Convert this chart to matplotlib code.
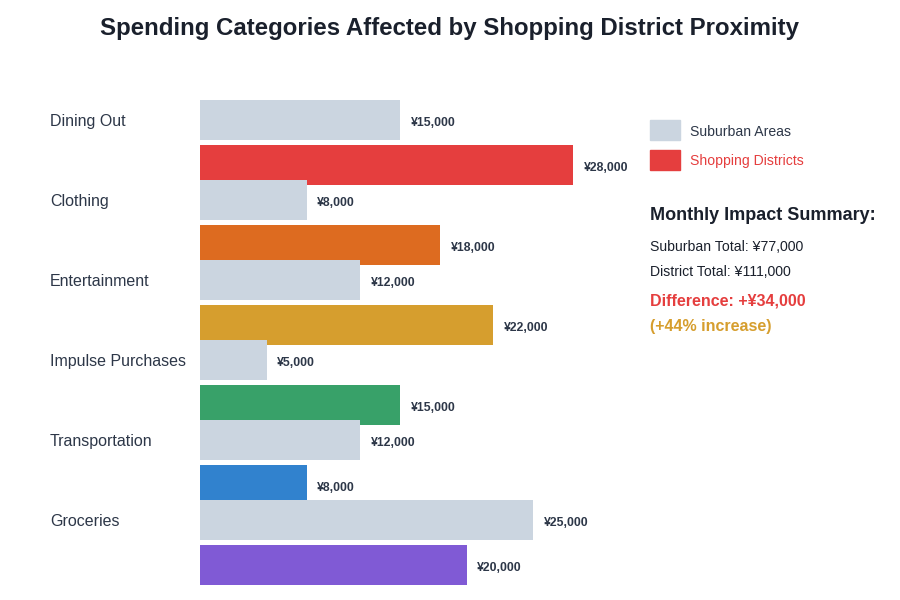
import matplotlib.pyplot as plt
from matplotlib.patches import Rectangle

plt.rcParams['font.family'] = ['Liberation Sans', 'DejaVu Sans']

categories = ['Dining Out', 'Clothing', 'Entertainment', 'Impulse Purchases',
              'Transportation', 'Groceries']
suburban = [15000, 8000, 12000, 5000, 12000, 25000]
district = [28000, 18000, 22000, 15000, 8000, 20000]
district_colors = ['#e53e3e', '#dd6b20', '#d69e2e', '#38a169', '#3182ce', '#805ad5']
suburban_color = '#cbd5e0'
text_dark = '#2d3748'


def fy(px):
    # pixel row from top -> figure fraction (nudged for text baseline)
    return 1 - (px + 1.5) / 600


fig = plt.figure(figsize=(9, 6), dpi=100)
# axes placed so one category step = 80 px and 1000 yen = 13.33 px
ax = fig.add_axes([200 / 900, 0, 440 / 900, 520 / 600])
ax.set_xlim(0, 33000)
ax.set_ylim(6.0, -0.5)
ax.axis('off')

for i, cat in enumerate(categories):
    ax.barh(i, suburban[i], height=0.5, color=suburban_color, zorder=2 * i)
    ax.barh(i + 0.5625, district[i], height=0.5, color=district_colors[i], zorder=2 * i + 1)
    ax.annotate(f'¥{suburban[i]:,}', (suburban[i], i), xytext=(7.5, -2),
                textcoords='offset points', va='center', ha='left',
                fontsize=8.8, fontweight='bold', color=text_dark, zorder=20)
    ax.annotate(f'¥{district[i]:,}', (district[i], i + 0.5625), xytext=(7.5, -2),
                textcoords='offset points', va='center', ha='left',
                fontsize=8.8, fontweight='bold', color=text_dark, zorder=20)
    fig.text(50 / 900, fy(120 + 80 * i), cat, ha='left', va='center',
             fontsize=11.5, color=text_dark)

fig.text(0.5, fy(27), 'Spending Categories Affected by Shopping District Proximity',
         ha='center', va='center', fontsize=17.3, fontweight='bold', color='#1a202c')

# legend
fig.add_artist(Rectangle((650 / 900, 1 - 140 / 600), 30 / 900, 20 / 600,
                         transform=fig.transFigure, color=suburban_color))
fig.add_artist(Rectangle((650 / 900, 1 - 170 / 600), 30 / 900, 20 / 600,
                         transform=fig.transFigure, color='#e53e3e'))
fig.text(690 / 900, fy(130), 'Suburban Areas', ha='left', va='center',
         fontsize=10.1, color=text_dark)
fig.text(690 / 900, fy(160), 'Shopping Districts', ha='left', va='center',
         fontsize=10.1, color='#e53e3e')

# summary
sub_total = sum(suburban)
dist_total = sum(district)
diff = dist_total - sub_total
pct = round(diff / sub_total * 100)
fig.text(650 / 900, fy(214), 'Monthly Impact Summary:', ha='left', va='center',
         fontsize=13, fontweight='bold', color='#1a202c')
fig.text(650 / 900, fy(245), f'Suburban Total: ¥{sub_total:,}', ha='left',
         va='center', fontsize=10.1, color='#1a202c')
fig.text(650 / 900, fy(270), f'District Total: ¥{dist_total:,}', ha='left',
         va='center', fontsize=10.1, color='#1a202c')
fig.text(650 / 900, fy(300), f'Difference: +¥{diff:,}', ha='left', va='center',
         fontsize=11.5, fontweight='bold', color='#e53e3e')
fig.text(650 / 900, fy(325), f'(+{pct}% increase)', ha='left', va='center',
         fontsize=11.5, fontweight='bold', color='#d69e2e')

plt.savefig('out.png', dpi=100)
